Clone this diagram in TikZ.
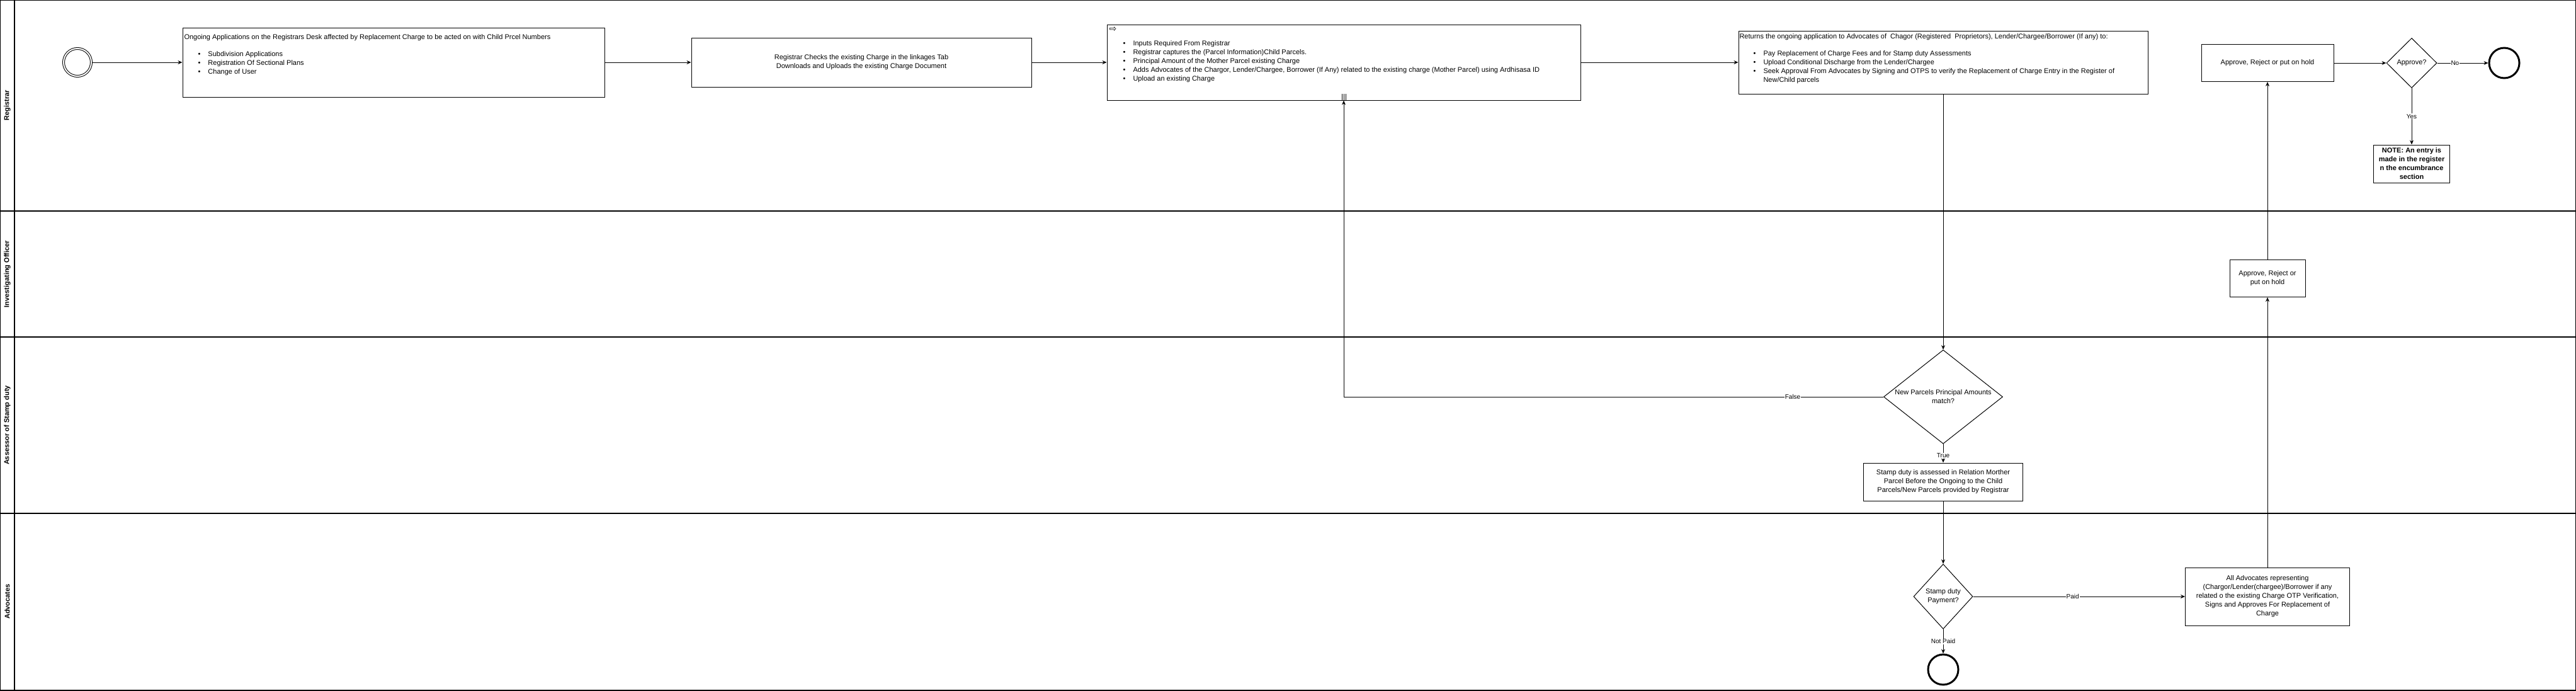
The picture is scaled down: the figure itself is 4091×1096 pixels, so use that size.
\documentclass[tikz,border=0pt]{standalone}
\usepackage{fontspec}
\setmainfont{Liberation Sans}
\newfontfamily\arrowfont{DejaVu Sans}
\usepackage{tikz}
\usetikzlibrary{shapes.geometric}
\usetikzlibrary{arrows.meta}
\newcommand{\bitem}[1]{\hspace*{22pt}\makebox[16pt][l]{\textbullet}#1}

\begin{document}
\begin{tikzpicture}[x=1pt,y=-1pt,line width=1pt,>={Stealth[length=7pt,width=6pt]},
  font=\fontsize{11}{14}\selectfont,
  task/.style={draw,rectangle,inner sep=0pt,align=center},
  decision/.style={draw,diamond,inner sep=0pt},
  txt/.style={inner sep=0pt,align=left,anchor=north west},
  lbl/.style={fill=white,inner sep=1pt,font=\fontsize{10}{12}\selectfont},
  lane/.style={rotate=90,font=\fontsize{11}{13}\selectfont\bfseries}]
  \useasboundingbox (0,0) rectangle (4091,1096);
  \draw[line width=1.2pt] (0,0) rectangle (4091,1096);
  \draw[line width=1.2pt] (23,0) -- (23,1096)
    (0,335) -- (4091,335) (0,535) -- (4091,535) (0,815) -- (4091,815);
  \node[lane] (lreg) at (11.5,167) {Registrar};
  \node[lane] (lio) at (11.5,435) {Investigating Officer};
  \node[lane] (lass) at (11.5,675) {Assessor of Stamp duty};
  \node[lane] (ladv) at (11.5,955) {Advocates};

  \node[draw,circle,double,double distance=2pt,minimum size=44pt,inner sep=0pt] (start) at (123,99) {};
  \node[task,minimum width=670pt,minimum height=110pt] (ongoing) at (625,99) {};
  \node[txt] (ongoingtxt) at (292,54) {Ongoing Applications on the Registrars Desk affected by Replacement Charge to be acted on with Child Prcel Numbers\\[13pt]
    \bitem{Subdivision Applications}\\
    \bitem{Registration Of Sectional Plans}\\
    \bitem{Change of User}};
  \node[task,minimum width=540pt,minimum height=78pt] (checks) at (1368,99)
    {Registrar Checks the existing Charge in the linkages Tab\\Downloads and Uploads the existing Charge Document};
  \node[task,minimum width=752pt,minimum height=120pt] (inputs) at (2134,99) {};
  \node[txt] (inputstxt) at (1761,42) {{\arrowfont\fontsize{14}{14}\selectfont ⇨}\\[8pt]
    \bitem{Inputs Required From Registrar}\\
    \bitem{Registrar captures the (Parcel Information)Child Parcels.}\\
    \bitem{Principal Amount of the Mother Parcel existing Charge}\\
    \bitem{Adds Advocates of the Chargor, Lender/Chargee, Borrower (If Any) related to the existing charge (Mother Parcel) using Ardhisasa ID}\\
    \bitem{Upload an existing Charge}};
  \foreach \dx in {-3,0,3}
    \draw[line width=0.7pt] ([xshift=\dx pt]inputs.south) -- ++(0,-11);
  \node[task,minimum width=650pt,minimum height=100pt] (returns) at (3086,99) {};
  \node[txt] (returnstxt) at (2762,53) {Returns the ongoing application to Advocates of\ \ Chagor (Registered\ \ Proprietors), Lender/Chargee/Borrower (If any) to:\\[13pt]
    \bitem{Pay Replacement of Charge Fees and for Stamp duty Assessments}\\
    \bitem{Upload Conditional Discharge from the Lender/Chargee}\\
    \bitem{Seek Approval From Advocates by Signing and OTPS to verify the Replacement of Charge Entry in the Register of}\\
    \hspace*{38pt}New/Child parcels};

  \node[decision,minimum width=189pt,minimum height=149pt] (match) at (3086,630) {};
  \node[align=center,inner sep=0pt] (matchtxt) at (match.center) {New Parcels Principal Amounts\\match?};
  \node[task,minimum width=253pt,minimum height=60pt] (assess) at (3086,765)
    {Stamp duty is assessed in Relation Morther\\Parcel Before the Ongoing to the Child\\Parcels/New Parcels provided by Registrar};
  \node[decision,minimum width=94pt,minimum height=103pt] (payment) at (3086,947) {};
  \node[align=center,inner sep=0pt] (paymenttxt) at (payment.center) {Stamp duty\\Payment?};
  \node[draw,circle,line width=3pt,minimum size=48pt,inner sep=0pt] (endpay) at (3086,1063) {};
  \node[task,minimum width=261pt,minimum height=92pt] (advocates) at (3601,947)
    {All Advocates representing\\(Chargor/Lender(chargee)/Borrower if any\\related o the existing Charge OTP Verification,\\Signs and Approves For Replacement of\\Charge};
  \node[task,minimum width=120pt,minimum height=59pt] (iocheck) at (3601,442) {Approve, Reject or\\put on hold};
  \node[task,minimum width=210pt,minimum height=59pt] (regcheck) at (3601,100) {Approve, Reject or put on hold};
  \node[decision,minimum width=80pt,minimum height=79pt] (approve) at (3830,100) {};
  \node[inner sep=0pt] (approvetxt) at (approve.center) {Approve?};
  \node[draw,circle,line width=3pt,minimum size=48pt,inner sep=0pt] (endreg) at (3977,100) {};
  \node[task,minimum width=121pt,minimum height=60pt,font=\fontsize{11}{14}\selectfont\bfseries] (note) at (3830,260)
    {NOTE: An entry is\\made in the register\\n the encumbrance\\section};

  \draw[->] (start) -- (ongoing);
  \draw[->] (ongoing) -- (checks);
  \draw[->] (checks) -- (inputs);
  \draw[->] (inputs) -- (returns);
  \draw[->] (returns) -- (match);
  \draw[->] (match.west) -| node[lbl,pos=0.084] {False} (inputs.south);
  \draw[->] (match) -- node[lbl,pos=0.62] {True} (assess);
  \draw[->] (assess) -- (payment);
  \draw[->] (payment) -- node[lbl] {Not Paid} (endpay);
  \draw[->] (payment) -- node[lbl,pos=0.47] {Paid} (advocates);
  \draw[->] (advocates) -- (iocheck);
  \draw[->] (iocheck) -- (regcheck);
  \draw[->] (regcheck) -- (approve);
  \draw[->] (approve) -- node[lbl,pos=0.35] {No} (endreg);
  \draw[->] (approve) -- node[lbl] {Yes} (note);
\end{tikzpicture}
\end{document}
